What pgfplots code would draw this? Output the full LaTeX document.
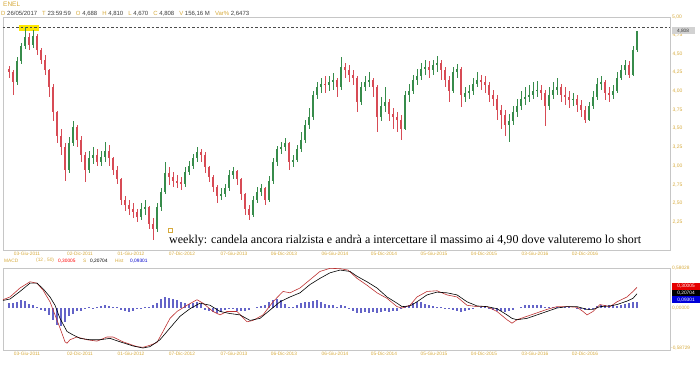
\documentclass[border=0pt]{standalone}
\usepackage{pgfplots}
\pgfplotsset{compat=1.18}
\usepackage{pgfplotstable}
\usepackage{fontspec}
\setmainfont{Liberation Sans}
\newfontfamily\tnr{Liberation Serif}
\definecolor{gold}{RGB}{214,170,60}
\definecolor{upc}{RGB}{55,140,75}
\definecolor{dnc}{RGB}{215,75,85}
\definecolor{histc}{RGB}{100,100,200}
\definecolor{macdc}{RGB}{190,50,50}
\definecolor{txt}{RGB}{60,60,60}

\pgfplotstableread{
x o h l c
9 4.30 4.34 4.18 4.26
13 4.26 4.28 3.95 4.12
17 4.12 4.45 4.08 4.40
21 4.40 4.64 4.36 4.60
25 4.60 4.86 4.56 4.72
29 4.72 4.78 4.55 4.62
33 4.62 4.82 4.58 4.74
37 4.74 4.76 4.48 4.55
41 4.55 4.58 4.36 4.42
45 4.42 4.48 4.22 4.28
49 4.28 4.30 3.92 4.05
53 4.05 4.10 3.60 3.72
57 3.72 3.74 3.30 3.40
61 3.40 3.50 3.15 3.25
65 3.25 3.30 2.80 2.95
69 2.95 3.38 2.90 3.30
73 3.30 3.60 3.26 3.52
77 3.52 3.55 3.25 3.35
81 3.35 3.40 3.05 3.15
85 3.15 3.18 2.78 2.95
89 2.95 3.20 2.90 3.10
93 3.10 3.25 3.02 3.15
97 3.15 3.22 3.00 3.05
101 3.05 3.20 3.00 3.12
105 3.12 3.32 3.05 3.20
109 3.20 3.28 3.00 3.10
113 3.10 3.12 2.88 2.95
117 2.95 3.00 2.76 2.82
121 2.82 2.84 2.48 2.55
125 2.55 2.60 2.40 2.48
129 2.48 2.55 2.35 2.42
133 2.42 2.50 2.30 2.38
137 2.38 2.42 2.25 2.32
141 2.32 2.50 2.28 2.42
145 2.42 2.55 2.35 2.45
149 2.45 2.46 2.15 2.22
153 2.22 2.30 2.01 2.15
157 2.15 2.50 2.12 2.45
161 2.45 2.70 2.40 2.65
165 2.65 3.05 2.62 2.90
169 2.90 2.98 2.75 2.85
173 2.85 2.92 2.72 2.80
177 2.80 2.88 2.70 2.78
181 2.78 2.85 2.68 2.76
185 2.76 2.98 2.72 2.92
189 2.92 3.06 2.88 3.00
193 3.00 3.16 2.96 3.10
197 3.10 3.25 3.05 3.18
201 3.18 3.22 3.05 3.15
205 3.15 3.18 2.90 2.98
209 2.98 3.00 2.78 2.85
213 2.85 2.88 2.65 2.72
217 2.72 2.75 2.50 2.60
221 2.60 2.70 2.55 2.62
225 2.62 2.76 2.58 2.70
229 2.70 2.95 2.66 2.88
233 2.88 2.98 2.82 2.93
237 2.93 2.95 2.74 2.82
241 2.82 2.84 2.55 2.62
245 2.62 2.64 2.35 2.42
249 2.42 2.48 2.28 2.35
253 2.35 2.60 2.32 2.55
257 2.55 2.72 2.50 2.65
261 2.65 2.76 2.60 2.70
265 2.70 2.72 2.48 2.55
269 2.55 2.86 2.52 2.80
273 2.80 3.10 2.76 3.05
277 3.05 3.26 3.00 3.22
281 3.22 3.32 3.16 3.25
285 3.25 3.37 3.20 3.30
289 3.30 3.32 2.95 3.05
293 3.05 3.15 2.98 3.08
297 3.08 3.28 3.05 3.22
301 3.22 3.45 3.18 3.35
305 3.35 3.62 3.30 3.55
309 3.55 3.77 3.50 3.65
313 3.65 4.00 3.62 3.95
317 3.95 4.12 3.90 4.05
321 4.05 4.18 3.98 4.10
325 4.10 4.20 3.98 4.08
329 4.08 4.20 4.00 4.12
333 4.12 4.24 4.02 4.15
337 4.15 4.18 3.92 4.05
341 4.05 4.45 4.02 4.32
345 4.32 4.38 4.18 4.28
349 4.28 4.35 4.12 4.22
353 4.22 4.28 4.08 4.18
357 4.18 4.20 3.72 3.85
361 3.85 4.12 3.82 4.05
365 4.05 4.20 4.00 4.12
369 4.12 4.25 4.05 4.15
373 4.15 4.18 3.92 4.05
377 4.05 4.08 3.45 3.65
381 3.65 3.92 3.60 3.80
385 3.80 4.05 3.72 3.85
389 3.85 3.90 3.60 3.70
393 3.70 3.78 3.50 3.65
397 3.65 3.72 3.45 3.62
401 3.62 3.68 3.35 3.50
405 3.50 4.00 3.48 3.95
409 3.95 4.10 3.85 4.00
413 4.00 4.22 3.96 4.15
417 4.15 4.30 4.08 4.20
421 4.20 4.38 4.15 4.30
425 4.30 4.42 4.22 4.32
429 4.32 4.40 4.18 4.28
433 4.28 4.42 4.22 4.35
437 4.35 4.47 4.26 4.38
441 4.38 4.42 4.15 4.28
445 4.28 4.32 4.05 4.15
449 4.15 4.20 3.86 4.00
453 4.00 4.32 3.98 4.25
457 4.25 4.36 4.18 4.30
461 4.30 4.32 3.79 3.95
465 3.92 4.05 3.86 3.97
469 3.97 4.08 3.90 4.00
473 4.00 4.18 3.95 4.10
477 4.10 4.25 4.05 4.15
481 4.15 4.22 4.02 4.12
485 4.12 4.20 3.98 4.08
489 4.08 4.12 3.86 3.95
493 3.95 4.02 3.80 3.90
497 3.90 3.95 3.62 3.75
501 3.75 3.82 3.50 3.68
505 3.68 3.75 3.40 3.55
509 3.55 3.70 3.32 3.60
513 3.60 3.80 3.55 3.72
517 3.72 3.90 3.65 3.80
521 3.80 4.00 3.75 3.90
525 3.90 4.05 3.82 3.92
529 3.92 4.08 3.85 3.95
533 3.95 4.12 3.90 4.00
537 4.00 4.14 3.92 4.02
541 4.02 4.08 3.88 3.98
545 3.98 4.02 3.53 3.80
549 3.80 4.05 3.75 3.95
553 3.95 4.12 3.90 4.02
557 4.02 4.17 3.95 4.05
561 4.05 4.10 3.85 3.95
565 3.95 4.05 3.82 3.92
569 3.92 4.00 3.78 3.88
573 3.88 3.98 3.80 3.90
577 3.90 3.95 3.72 3.82
581 3.82 3.88 3.65 3.75
585 3.75 3.80 3.57 3.62
589 3.62 3.85 3.60 3.80
593 3.80 4.00 3.76 3.92
597 3.92 4.18 3.88 4.10
601 4.10 4.20 4.02 4.12
605 4.12 4.15 3.88 3.98
609 3.98 4.05 3.86 3.95
613 3.95 4.08 3.90 4.00
617 4.00 4.25 3.98 4.18
621 4.18 4.35 4.15 4.28
625 4.28 4.42 4.22 4.35
629 4.35 4.40 4.17 4.22
633 4.22 4.60 4.20 4.55
637 4.55 4.81 4.52 4.808
}\candles

\pgfplotstableread{
x v
9 0.07
13 0.07
17 0.09
21 0.11
25 0.10
29 0.06
33 0.04
37 0.01
41 -0.03
45 -0.05
49 -0.10
53 -0.17
57 -0.24
61 -0.26
65 -0.21
69 -0.12
73 -0.09
77 -0.05
81 -0.04
85 -0.02
89 0.01
93 -0.02
97 0.01
101 0.03
105 0.04
109 0.03
113 0.02
117 0.01
121 -0.03
125 -0.05
129 -0.06
133 -0.04
137 -0.02
141 -0.02
145 0.01
149 0.02
153 0.05
157 0.07
161 0.13
165 0.16
169 0.15
173 0.13
177 0.12
181 0.08
185 0.07
189 0.06
193 0.07
197 0.09
201 0.06
205 -0.03
209 -0.05
213 -0.06
217 -0.07
221 -0.06
225 -0.03
229 -0.02
233 -0.02
237 -0.04
241 -0.05
245 -0.04
249 -0.03
253 0.00
257 0.01
261 0.03
265 0.05
269 0.09
273 0.12
277 0.13
281 0.11
285 0.06
289 0.02
293 0.01
297 0.04
301 0.07
305 0.08
309 0.08
313 0.10
317 0.11
321 0.09
325 0.06
329 0.05
333 0.04
337 0.02
341 0.04
345 0.03
349 -0.02
353 -0.04
357 -0.07
361 -0.07
365 -0.06
369 -0.07
373 -0.06
377 -0.07
381 -0.06
385 -0.05
389 -0.06
393 -0.05
397 -0.04
401 -0.02
405 0.03
409 0.05
413 0.07
417 0.09
421 0.08
425 0.06
429 0.04
433 0.03
437 0.02
441 0.01
445 -0.01
449 -0.02
453 -0.03
457 -0.05
461 -0.06
465 -0.05
469 -0.03
473 -0.01
477 0.00
481 0.01
485 0.01
489 -0.01
493 -0.03
497 -0.04
501 -0.05
505 -0.06
509 -0.05
513 -0.03
517 0.00
521 0.02
525 0.04
529 0.04
533 0.04
537 0.05
541 0.05
545 0.02
549 0.01
553 0.01
557 0.01
561 0.02
565 0.01
569 0.01
573 0.00
577 -0.01
581 -0.02
585 -0.03
589 -0.03
593 -0.01
597 0.03
601 0.04
605 0.05
609 0.05
613 0.04
617 0.03
621 0.04
625 0.06
629 0.07
633 0.08
637 0.093
}\hist

\pgfplotstableread{
x v
3 0.12
10 0.16
20 0.29
30 0.38
37 0.36
43 0.26
50 0.09
55 -0.10
60 -0.29
65 -0.49
67 -0.51
70 -0.46
77 -0.42
87 -0.46
97 -0.48
107 -0.42
113 -0.42
123 -0.49
137 -0.56
143 -0.57
150 -0.54
157 -0.50
163 -0.34
170 -0.15
177 -0.05
187 0.04
197 0.12
203 0.07
213 -0.05
220 -0.10
227 -0.05
237 -0.05
247 -0.20
253 -0.18
263 -0.10
273 0.09
283 0.24
290 0.22
300 0.29
310 0.41
320 0.53
330 0.575
340 0.57
348 0.55
357 0.43
367 0.33
377 0.22
387 0.14
397 0.02
402 0.00
410 0.04
417 0.16
427 0.24
437 0.25
447 0.19
457 0.16
467 0.04
477 0.02
487 0.02
497 -0.05
507 -0.17
512 -0.22
517 -0.17
527 -0.12
537 -0.07
547 -0.02
557 0.02
567 0.02
577 0.01
583 -0.05
587 -0.10
593 -0.05
600 0.05
610 0.02
617 0.09
627 0.16
633 0.24
637 0.30005
}\macd

\pgfplotstableread{
x v
3 0.11
10 0.13
20 0.24
30 0.36
37 0.36
43 0.28
50 0.16
55 0.04
60 -0.15
67 -0.34
73 -0.39
80 -0.44
90 -0.46
100 -0.46
110 -0.44
120 -0.49
133 -0.55
143 -0.58
150 -0.56
160 -0.46
170 -0.29
180 -0.12
190 -0.01
200 0.07
210 0.04
220 -0.05
230 -0.08
240 -0.10
250 -0.18
260 -0.15
270 -0.03
280 0.09
290 0.16
300 0.22
310 0.34
320 0.43
330 0.51
340 0.55
350 0.53
357 0.46
367 0.38
377 0.29
387 0.16
397 0.07
402 0.02
410 0.03
417 0.09
427 0.19
437 0.23
447 0.22
457 0.19
467 0.09
477 0.03
487 0.02
497 -0.01
507 -0.10
512 -0.15
517 -0.17
527 -0.15
537 -0.10
547 -0.05
557 0.00
567 0.02
577 0.02
587 -0.02
593 -0.02
600 0.02
610 0.03
617 0.05
627 0.10
633 0.14
637 0.20704
}\signal

\pgfplotsset{
  chartbase/.style={
    scale only axis, width=667pt, xmin=3, xmax=670,
    axis line style={draw=gray!45, line width=0.8pt},
    major tick length=0pt,
    xtick={27,80,131,182,234,284,335,384,434,484,535,585},
    xticklabels={03-Giu-2011,02-Dic-2011,01-Giu-2012,07-Dic-2012,07-Giu-2013,06-Dic-2013,06-Giu-2014,05-Dic-2014,05-Giu-2015,04-Dic-2015,03-Giu-2016,02-Dic-2016},
    xticklabel style={font=\fontsize{4.8}{5.5}\selectfont, text=gold, inner sep=1.5pt},
    /pgf/number format/assume math mode=true,
  }
}

\begin{document}
\begin{tikzpicture}
\path[use as bounding box] (0,0) rectangle (700pt,365pt);

% main price panel
\begin{axis}[chartbase,
  at={(3pt,115pt)}, anchor=south west, height=233pt,
  ymin=1.8757, ymax=4.9906,
  ytick={2.25,2.5,2.75,3,3.25,3.5,3.75,4,4.25,4.5,4.75},
  yticklabel pos=right,
  yticklabel style={font=\fontsize{5}{6}\selectfont, text=gold, anchor=west, inner sep=1pt, xshift=1.5pt,
    /pgf/number format/.cd, fixed, fixed zerofill, precision=2, use comma},
]
\fill[yellow!90!orange] (axis cs:19,4.80) rectangle (axis cs:39,4.885);
\draw[gray!60!black, line width=0.5pt, dash pattern=on 2.5pt off 2pt] (axis cs:3,4.857) -- (axis cs:670,4.857);
% wicks
\addplot[forget plot, mark=none, draw=none,
  restrict expr to domain={\thisrow{c}-\thisrow{o}}{0:10},
  error bars/.cd, y dir=both, y explicit, error mark=none,
  error bar style={draw=upc, line width=0.5pt}]
  table[x=x, y expr={(\thisrow{h}+\thisrow{l})/2}, y error expr={(\thisrow{h}-\thisrow{l})/2}] {\candles};
\addplot[forget plot, mark=none, draw=none,
  restrict expr to domain={\thisrow{c}-\thisrow{o}}{-10:-0.00001},
  error bars/.cd, y dir=both, y explicit, error mark=none,
  error bar style={draw=dnc, line width=0.5pt}]
  table[x=x, y expr={(\thisrow{h}+\thisrow{l})/2}, y error expr={(\thisrow{h}-\thisrow{l})/2}] {\candles};
% bodies
\addplot[forget plot, mark=none, draw=none,
  restrict expr to domain={\thisrow{c}-\thisrow{o}}{0:10},
  error bars/.cd, y dir=both, y explicit, error mark=none,
  error bar style={draw=upc, line width=1.5pt}]
  table[x=x, y expr={(\thisrow{o}+\thisrow{c})/2}, y error expr={abs(\thisrow{c}-\thisrow{o})/2}] {\candles};
\addplot[forget plot, mark=none, draw=none,
  restrict expr to domain={\thisrow{c}-\thisrow{o}}{-10:-0.00001},
  error bars/.cd, y dir=both, y explicit, error mark=none,
  error bar style={draw=dnc, line width=1.5pt}]
  table[x=x, y expr={(\thisrow{o}+\thisrow{c})/2}, y error expr={abs(\thisrow{c}-\thisrow{o})/2}] {\candles};
\end{axis}

% MACD panel
\begin{axis}[chartbase,
  at={(3pt,15pt)}, anchor=south west, height=82pt,
  ymin=-0.6087, ymax=0.5797, ytick=\empty,
]
\addplot[forget plot, ycomb, mark=none, draw=histc, color=histc, line width=1.1pt] table[x=x, y=v] {\hist};
\addplot[forget plot, mark=none, macdc, line width=0.6pt] table[x=x, y=v] {\macd};
\addplot[forget plot, mark=none, black, line width=0.6pt] table[x=x, y=v] {\signal};
\end{axis}

% header
\node[anchor=west, inner sep=0, text=gold, font=\fontsize{6.5}{7}\selectfont] at (3pt,360.5pt) {ENEL};
\node[anchor=west, inner sep=0, text=txt, font=\fontsize{6}{7}\selectfont] at (1pt,351.5pt)
  {\textcolor{gold}{D} 26/05/2017\hspace{5pt}\textcolor{gold}{T} 23:59:59\hspace{5pt}\textcolor{gold}{O} 4,688\hspace{5pt}\textcolor{gold}{H} 4,810\hspace{5pt}\textcolor{gold}{L} 4,670\hspace{5pt}\textcolor{gold}{C} 4,808\hspace{5pt}\textcolor{gold}{V} 156,16 M\hspace{5pt}\textcolor{gold}{Var\%} 2,6473};

% right side labels main
\node[anchor=west, inner sep=0, text=gold, font=\fontsize{5}{6}\selectfont] at (672pt,348pt) {5,00};
\node[fill=gray!35, text=txt, inner sep=0, minimum width=23pt, minimum height=6.5pt, font=\fontsize{4.8}{5}\selectfont] at (683pt,334.3pt) {4,808};

% annotation
\node[draw=gold, line width=0.5pt, minimum size=4pt, inner sep=0] at (170pt,134.5pt) {};
\node[anchor=west, inner sep=0] at (169pt,124.5pt) {\resizebox{472pt}{!}{\tnr weekly: candela ancora rialzista e andrà a intercettare il massimo ai 4,90 dove valuteremo lo short}};

% MACD header
\begin{scope}[every node/.style={anchor=west, inner sep=0, font=\fontsize{4.8}{5.5}\selectfont}]
\node[text=gold] at (4pt,104.3pt) {MACD};
\node[text=gold] at (36pt,104.3pt) {(12 , 50)};
\node[text=red] at (58pt,104.3pt) {0,30005};
\node[text=gold] at (83pt,104.3pt) {S};
\node[text=black] at (90pt,104.3pt) {0,20704};
\node[text=gold] at (115pt,104.3pt) {Hist};
\node[text=blue!80!black] at (130pt,104.3pt) {0,09301};
% MACD right labels
\node[text=gold] at (672pt,97pt) {0,58028};
\node[text=gold] at (672pt,57pt) {0,00000};
\node[text=gold] at (671pt,17pt) {-0,58729};
\end{scope}
\begin{scope}[every node/.style={inner sep=0, minimum width=28pt, minimum height=6.6pt, font=\fontsize{4.8}{5}\selectfont, text=white}]
\node[fill=red!90!black] at (686pt,78.5pt) {0,30005};
\node[fill=black] at (686pt,71.9pt) {0,20704};
\node[fill=blue!85!black] at (686pt,65.3pt) {0,09301};
\end{scope}
\end{tikzpicture}
\end{document}
